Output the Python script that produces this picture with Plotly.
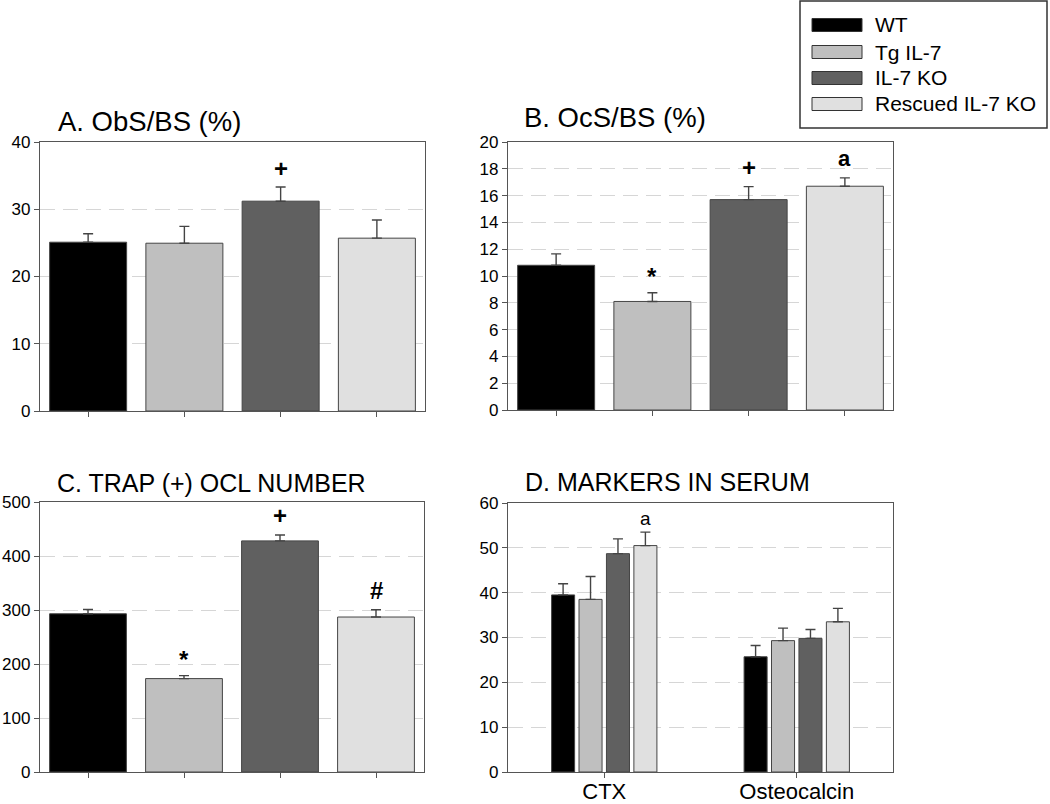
import plotly.graph_objects as go

W, H = 1050, 804
FONT = "Liberation Sans, Arial, sans-serif"

# ---------------- data ----------------
groups = ["WT", "Tg IL-7", "IL-7 KO", "Rescued IL-7 KO"]
colors = ["#000000", "#bfbfbf", "#606060", "#e0e0e0"]

obs_mean = [25.1, 24.95, 31.2, 25.7]
obs_err = [1.25, 2.5, 2.1, 2.7]
obs_sig = ["", "", "+", ""]

ocs_mean = [10.8, 8.1, 15.7, 16.7]
ocs_err = [0.85, 0.65, 0.97, 0.62]
ocs_sig = ["", "*", "+", "a"]

trap_mean = [293, 173, 428, 287]
trap_err = [8, 5.5, 11, 13.5]
trap_sig = ["", "*", "+", "#"]

markers = ["CTX", "Osteocalcin"]
ctx_mean = [39.5, 38.5, 48.7, 50.5]
ctx_err = [2.5, 5.1, 3.3, 3.0]
ctx_sig = ["", "", "", "a"]
ocn_mean = [25.7, 29.3, 29.8, 33.5]
ocn_err = [2.5, 2.8, 2.0, 3.0]
ocn_sig = ["", "", "", ""]

titles = ["A. ObS/BS (%)", "B. OcS/BS (%)", "C. TRAP (+) OCL NUMBER", "D. MARKERS IN SERUM"]

# ---------------- layout geometry (pixels) ----------------
panels = {
    "A": dict(x0=40, x1=425, y0=142, y1=411, ymax=40, dtick=10, title_xy=(56, 121), tsize=27.5),
    "B": dict(x0=508, x1=893, y0=142, y1=410, ymax=20, dtick=2, title_xy=(522, 117), tsize=27.5),
    "C": dict(x0=40, x1=424, y0=502, y1=772, ymax=500, dtick=100, title_xy=(55, 483), tsize=25),
    "D": dict(x0=508, x1=893, y0=503, y1=772, ymax=60, dtick=10, title_xy=(523, 482), tsize=25),
}
BARGAP = 0.43
BARGROUPGAP = 0.16


def fx(px):
    return px / W


def fy(py):
    return 1 - py / H


AXIS_COLOR = "#555555"
GRID_COLOR = "#d6d6d6"

fig = go.Figure()
layout = dict(
    width=W, height=H,
    margin=dict(l=0, r=0, t=0, b=0, autoexpand=False),
    paper_bgcolor="white", plot_bgcolor="white",
    barmode="group", bargap=BARGAP, bargroupgap=BARGROUPGAP,
    showlegend=False,
    font=dict(family=FONT, color="black"),
)

annotations = []
shapes = []

errstyle = dict(color="#444444", thickness=1.4, width=5)
barline = dict(color="#454545", width=1)

single = [("A", obs_mean, obs_err, obs_sig), ("B", ocs_mean, ocs_err, ocs_sig),
          ("C", trap_mean, trap_err, trap_sig)]

for k, (key, mean, err, sig) in enumerate(single, start=1):
    sfx = "" if k == 1 else str(k)
    fig.add_trace(go.Bar(
        x=groups, y=mean, width=0.8,
        marker=dict(color=colors, line=barline),
        error_y=dict(type="data", array=err, arrayminus=[0] * len(err), symmetric=False, **errstyle),
        xaxis="x" + sfx, yaxis="y" + sfx, hoverinfo="x+y",
    ))
    for g, m, e, s in zip(groups, mean, err, sig):
        if s:
            annotations.append(dict(
                x=g, y=m + e, xref="x" + sfx, yref="y" + sfx,
                text="<b>%s</b>" % s, showarrow=False, yanchor="middle",
                yshift=19 if s != "*" else 16,
                font=dict(size=24 if s in "+*#" else 22, family=FONT, color="black"),
            ))

# panel D grouped
for i, g in enumerate(groups):
    fig.add_trace(go.Bar(
        x=markers, y=[ctx_mean[i], ocn_mean[i]], name=g,
        marker=dict(color=colors[i], line=barline),
        error_y=dict(type="data", array=[ctx_err[i], ocn_err[i]], arrayminus=[0, 0],
                     symmetric=False, **errstyle),
        xaxis="x4", yaxis="y4", hoverinfo="x+y+name",
    ))

pD = panels["D"]
cat_px = (pD["x1"] - pD["x0"]) / len(markers)
slot_px = cat_px * (1 - BARGAP) / len(groups)
for mk, means, errs, sigs in [("CTX", ctx_mean, ctx_err, ctx_sig), ("Osteocalcin", ocn_mean, ocn_err, ocn_sig)]:
    for i, (m, e, s) in enumerate(zip(means, errs, sigs)):
        if s:
            annotations.append(dict(
                x=mk, y=m + e, xref="x4", yref="y4", text=s, showarrow=False,
                yanchor="middle", yshift=14, xshift=(i - (len(groups) - 1) / 2) * slot_px,
                font=dict(size=19, family=FONT, color="black"),
            ))

# axes
for k, key in enumerate(["A", "B", "C", "D"], start=1):
    p = panels[key]
    sfx = "" if k == 1 else str(k)
    ncat = len(groups) if key != "D" else len(markers)
    layout["xaxis" + sfx] = dict(
        domain=[fx(p["x0"]), fx(p["x1"])], anchor="y" + sfx,
        type="category", range=[-0.5, ncat - 0.5], automargin=False,
        showline=True, linecolor=AXIS_COLOR, linewidth=1.4, mirror=True,
        ticks="outside", ticklen=5, tickcolor=AXIS_COLOR, tickwidth=1.2,
        showgrid=False, zeroline=False,
        showticklabels=(key == "D"), ticklabelstandoff=-6,
        tickfont=dict(size=22, family=FONT, color="black"),
        fixedrange=True,
    )
    layout["yaxis" + sfx] = dict(
        domain=[fy(p["y1"]), fy(p["y0"])], anchor="x" + sfx,
        range=[0, p["ymax"]], dtick=p["dtick"], tick0=0, automargin=False,
        showline=True, linecolor=AXIS_COLOR, linewidth=1.4, mirror=True,
        ticks="outside", ticklen=5, tickcolor=AXIS_COLOR, tickwidth=1.2,
        showgrid=True, gridcolor=GRID_COLOR, gridwidth=1.3, griddash="15px,8px",
        zeroline=False,
        tickfont=dict(size=17, family=FONT, color="black"),
        fixedrange=True,
    )
    tx, ty = p["title_xy"]
    annotations.append(dict(
        x=fx(tx), y=fy(ty), xref="paper", yref="paper", text=titles[k - 1],
        showarrow=False, xanchor="left", yanchor="middle",
        font=dict(size=p["tsize"], family=FONT, color="black"),
    ))

# custom legend box (wide swatches as in the original)
shapes.append(dict(type="rect", xref="paper", yref="paper",
                   x0=fx(800), x1=fx(1047), y0=fy(128), y1=fy(1),
                   line=dict(color="#333333", width=1.5), fillcolor="white"))
row_y = [25, 52, 78, 104]
for g, c, ry in zip(groups, colors, row_y):
    shapes.append(dict(type="rect", xref="paper", yref="paper",
                       x0=fx(812), x1=fx(862), y0=fy(ry + 6.5), y1=fy(ry - 6.5),
                       line=dict(color="#333333", width=1), fillcolor=c))
    annotations.append(dict(x=fx(873), y=fy(ry), xref="paper", yref="paper", text=g,
                            showarrow=False, xanchor="left", yanchor="middle",
                            font=dict(size=21, family=FONT, color="black")))

layout["annotations"] = annotations
layout["shapes"] = shapes
fig.update_layout(**layout)

fig.write_html("out.html", config={"displayModeBar": False},
               post_script="document.body.style.margin='0px';document.body.style.overflow='hidden';")
